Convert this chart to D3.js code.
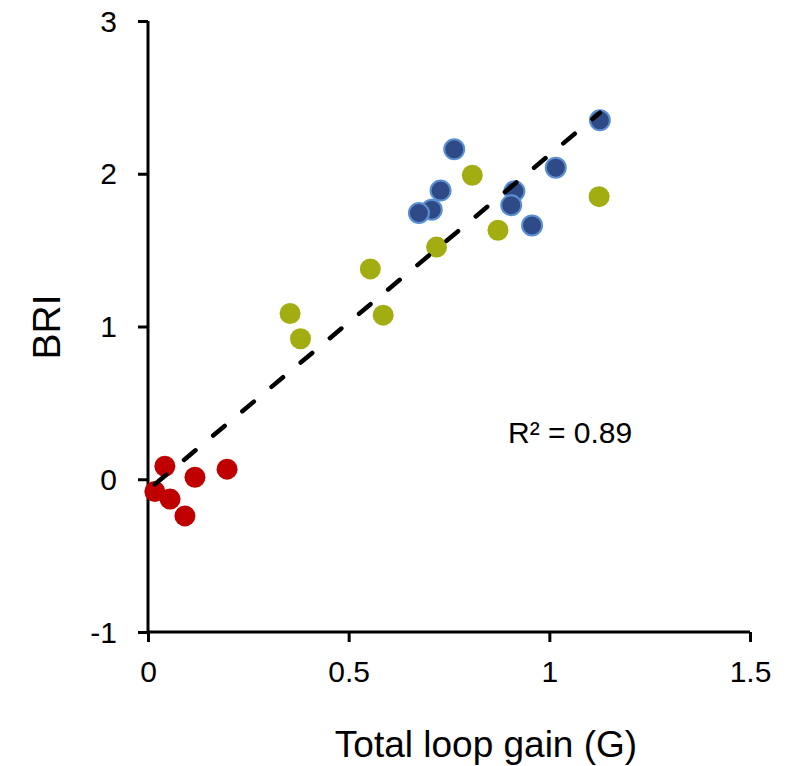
<!DOCTYPE html>
<html>
<head>
<meta charset="utf-8">
<script src="https://cdn.jsdelivr.net/npm/d3@7"></script>
<style>
  html, body { margin: 0; padding: 0; background: #fff; }
  svg { display: block; font-family: "Liberation Sans", Arial, sans-serif; }
</style>
</head>
<body>
<svg id="chart" width="800" height="766"></svg>
<script>
// Total loop gain (G) vs BRI, three groups
const lowGain = [
  [0.042, 0.085], [0.017, -0.08], [0.055, -0.13],
  [0.092, -0.24], [0.117, 0.013], [0.197, 0.066]
];
const midGain = [
  [0.354, 1.085], [0.380, 0.92], [0.554, 1.377], [0.586, 1.074],
  [0.719, 1.52], [0.808, 1.99], [0.872, 1.63], [1.124, 1.85]
];
const highGain = [
  [0.763, 2.16], [0.729, 1.89], [0.707, 1.765], [0.675, 1.743],
  [0.913, 1.886], [0.905, 1.794], [0.957, 1.662], [1.016, 2.04], [1.126, 2.35]
];
const xTicks = [0, 0.5, 1, 1.5];
const yTicks = [-1, 0, 1, 2, 3];
const r2Label = "R² = 0.89";

const FONT = "'Liberation Sans', Arial, sans-serif";
const svg = d3.select("#chart");
const x = d3.scaleLinear().domain([0, 1.5]).range([148, 750]);
const y = d3.scaleLinear().domain([-1, 3]).range([632, 21]);

// Axes
const xAxis = svg.append("g").attr("transform", `translate(0,${y(-1)})`)
  .call(d3.axisBottom(x).tickValues(xTicks).tickSize(10).tickFormat(d => String(d)));
const yAxis = svg.append("g").attr("transform", `translate(${x(0)},0)`)
  .call(d3.axisLeft(y).tickValues(yTicks).tickSize(10).tickFormat(d => String(d)));
[xAxis, yAxis].forEach(g => {
  g.attr("font-size", 30).attr("font-family", FONT);
  g.select(".domain").attr("stroke", "#000").attr("stroke-width", 3)
    .attr("d", g === xAxis ? `M${x(0)},0H${x(1.5)}` : `M0,${y(-1)}V${y(3)}`);
  g.selectAll(".tick line").attr("stroke", "#000").attr("stroke-width", 3);
  g.selectAll(".tick text").attr("fill", "#000").attr("font-size", 30);
});
xAxis.selectAll(".tick text").attr("y", 50).attr("dy", null);
yAxis.selectAll(".tick text").attr("x", -31).attr("dy", "0.34em");

// Least-squares trend line over all points
const all = lowGain.concat(midGain, highGain);
const mx = d3.mean(all, d => d[0]), my = d3.mean(all, d => d[1]);
const sxy = d3.sum(all, d => (d[0] - mx) * (d[1] - my));
const sxx = d3.sum(all, d => (d[0] - mx) ** 2);
const slope = sxy / sxx, icpt = my - slope * mx;
const xr = d3.extent(all, d => d[0]);

// Points
const groups = [
  { data: lowGain, fill: "#c00000", stroke: "none" },
  { data: midGain, fill: "#a2ad12", stroke: "none" },
  { data: highGain, fill: "#2f4b87", stroke: "#5b8fd4" }
];
groups.forEach(g => {
  svg.append("g").selectAll("circle").data(g.data).join("circle")
    .attr("cx", d => x(d[0])).attr("cy", d => y(d[1]))
    .attr("r", g.stroke === "none" ? 10.5 : 10)
    .attr("fill", g.fill)
    .attr("stroke", g.stroke).attr("stroke-width", 2);
});

svg.append("line")
  .attr("x1", x(xr[0])).attr("y1", y(icpt + slope * xr[0]))
  .attr("x2", x(xr[1])).attr("y2", y(icpt + slope * xr[1]))
  .attr("stroke", "#000").attr("stroke-width", 4.5)
  .attr("stroke-linecap", "round").attr("stroke-dasharray", "15,23");

// Labels
svg.append("text").attr("x", 508).attr("y", 443).attr("font-size", 30)
  .attr("font-family", FONT).attr("fill", "#000").text(r2Label);
svg.append("text").attr("transform", "translate(60,327) rotate(-90)")
  .attr("text-anchor", "middle").attr("font-size", 39).attr("font-family", FONT)
  .attr("fill", "#000").text("BRI");
svg.append("text").attr("x", 486).attr("y", 757).attr("text-anchor", "middle")
  .attr("font-size", 37).attr("font-family", FONT).attr("fill", "#000")
  .text("Total loop gain (G)");
</script>
</body>
</html>
